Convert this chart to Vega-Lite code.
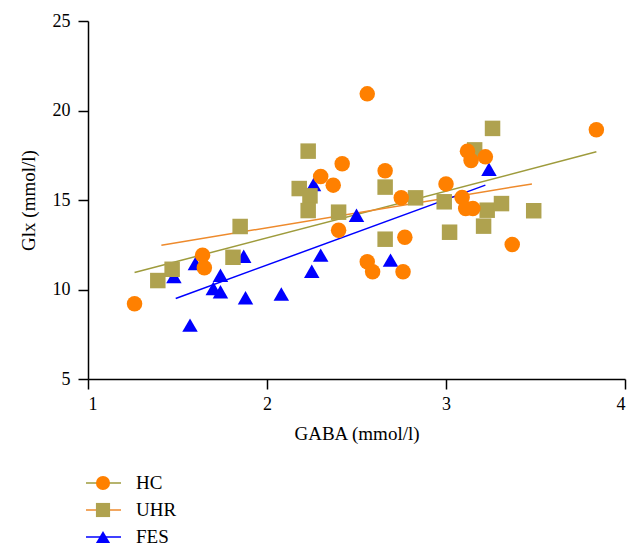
{
  "$schema": "https://vega.github.io/schema/vega-lite/v6.json",
  "background": "white",
  "padding": {"left": 19, "top": 12, "right": 5, "bottom": 5},
  "spacing": 31,
  "config": {
    "view": {"stroke": null},
    "font": "Liberation Serif",
    "axis": {
      "domainColor": "black", "domainWidth": 1.5, "tickColor": "black", "tickWidth": 1.5, "tickSize": 10,
      "labelFont": "Liberation Serif", "labelFontSize": 18, "labelColor": "black",
      "titleFont": "Liberation Serif", "titleFontSize": 19, "titleFontWeight": "normal", "titleColor": "black",
      "grid": false
    },
    "text": {"font": "Liberation Serif"}
  },
  "datasets": {
    "points": [
      {"group": "FES", "gaba": 1.87, "glx": 11.86},
      {"group": "FES", "gaba": 1.48, "glx": 10.73},
      {"group": "FES", "gaba": 1.60, "glx": 11.45},
      {"group": "FES", "gaba": 1.74, "glx": 10.80},
      {"group": "FES", "gaba": 1.70, "glx": 10.06},
      {"group": "FES", "gaba": 1.74, "glx": 9.87},
      {"group": "FES", "gaba": 1.88, "glx": 9.54},
      {"group": "FES", "gaba": 2.08, "glx": 9.75},
      {"group": "FES", "gaba": 1.57, "glx": 8.01},
      {"group": "FES", "gaba": 2.26, "glx": 15.87},
      {"group": "FES", "gaba": 2.50, "glx": 14.15},
      {"group": "FES", "gaba": 2.30, "glx": 11.92},
      {"group": "FES", "gaba": 2.25, "glx": 11.02},
      {"group": "FES", "gaba": 2.69, "glx": 11.64},
      {"group": "FES", "gaba": 3.24, "glx": 16.72},
      {"group": "UHR", "gaba": 1.85, "glx": 13.52},
      {"group": "UHR", "gaba": 1.81, "glx": 11.80},
      {"group": "UHR", "gaba": 1.47, "glx": 11.13},
      {"group": "UHR", "gaba": 1.39, "glx": 10.50},
      {"group": "UHR", "gaba": 2.23, "glx": 17.73},
      {"group": "UHR", "gaba": 2.18, "glx": 15.64},
      {"group": "UHR", "gaba": 2.24, "glx": 15.23},
      {"group": "UHR", "gaba": 2.23, "glx": 14.41},
      {"group": "UHR", "gaba": 2.66, "glx": 15.72},
      {"group": "UHR", "gaba": 2.83, "glx": 15.12},
      {"group": "UHR", "gaba": 2.99, "glx": 14.90},
      {"group": "UHR", "gaba": 2.40, "glx": 14.32},
      {"group": "UHR", "gaba": 3.02, "glx": 13.20},
      {"group": "UHR", "gaba": 2.66, "glx": 12.81},
      {"group": "UHR", "gaba": 3.26, "glx": 19.00},
      {"group": "UHR", "gaba": 3.16, "glx": 17.80},
      {"group": "UHR", "gaba": 3.23, "glx": 14.43},
      {"group": "UHR", "gaba": 3.31, "glx": 14.80},
      {"group": "UHR", "gaba": 3.49, "glx": 14.40},
      {"group": "UHR", "gaba": 3.21, "glx": 13.54},
      {"group": "HC", "gaba": 1.26, "glx": 9.20},
      {"group": "HC", "gaba": 1.64, "glx": 11.92},
      {"group": "HC", "gaba": 1.65, "glx": 11.21},
      {"group": "HC", "gaba": 2.56, "glx": 20.93},
      {"group": "HC", "gaba": 2.42, "glx": 17.02},
      {"group": "HC", "gaba": 2.30, "glx": 16.31},
      {"group": "HC", "gaba": 2.37, "glx": 15.83},
      {"group": "HC", "gaba": 2.66, "glx": 16.63},
      {"group": "HC", "gaba": 2.75, "glx": 15.12},
      {"group": "HC", "gaba": 3.00, "glx": 15.90},
      {"group": "HC", "gaba": 2.40, "glx": 13.31},
      {"group": "HC", "gaba": 2.77, "glx": 12.92},
      {"group": "HC", "gaba": 2.56, "glx": 11.55},
      {"group": "HC", "gaba": 2.59, "glx": 10.99},
      {"group": "HC", "gaba": 2.76, "glx": 10.99},
      {"group": "HC", "gaba": 3.12, "glx": 17.73},
      {"group": "HC", "gaba": 3.14, "glx": 17.21},
      {"group": "HC", "gaba": 3.22, "glx": 17.41},
      {"group": "HC", "gaba": 3.09, "glx": 15.14},
      {"group": "HC", "gaba": 3.11, "glx": 14.53},
      {"group": "HC", "gaba": 3.15, "glx": 14.53},
      {"group": "HC", "gaba": 3.84, "glx": 18.92},
      {"group": "HC", "gaba": 3.37, "glx": 12.51}
    ],
    "lines": [
      {"group": "HC", "gaba": 1.26, "glx": 10.95},
      {"group": "HC", "gaba": 3.84, "glx": 17.69},
      {"group": "UHR", "gaba": 1.41, "glx": 12.47},
      {"group": "UHR", "gaba": 3.48, "glx": 15.90},
      {"group": "FES", "gaba": 1.49, "glx": 9.50},
      {"group": "FES", "gaba": 3.22, "glx": 15.83}
    ],
    "legend": [
      {"group": "HC"},
      {"group": "UHR"},
      {"group": "FES"}
    ]
  },
  "vconcat": [
    {
      "width": 537,
      "height": 358,
      "layer": [
        {
          "data": {"name": "lines"},
          "mark": {"type": "line", "strokeWidth": 1.5},
          "encoding": {
            "x": {"field": "gaba", "type": "quantitative"},
            "y": {"field": "glx", "type": "quantitative"},
            "detail": {"field": "group"},
            "stroke": {"field": "group", "type": "nominal", "legend": null,
              "scale": {"domain": ["HC", "UHR", "FES"], "range": ["#9E9B3C", "#EE8A2C", "#0000FF"]}}
          }
        },
        {
          "data": {"name": "points"},
          "mark": {"type": "point", "filled": true, "opacity": 1, "size": 240},
          "encoding": {
            "x": {"field": "gaba", "type": "quantitative", "title": "GABA (mmol/l)",
              "scale": {"domain": [1, 4], "nice": false, "zero": false},
              "axis": {"values": [1, 2, 3, 4], "format": "d", "labelPadding": 6, "titlePadding": 11}},
            "y": {"field": "glx", "type": "quantitative", "title": "Glx (mmol/l)",
              "scale": {"domain": [5, 25], "nice": false, "zero": false},
              "axis": {"values": [5, 10, 15, 20, 25], "format": "d", "labelPadding": 8, "titlePadding": 14}},
            "shape": {"field": "group", "type": "nominal", "legend": null,
              "scale": {"domain": ["HC", "UHR", "FES"], "range": ["circle", "square", "triangle-up"]}},
            "color": {"field": "group", "type": "nominal", "legend": null,
              "scale": {"domain": ["HC", "UHR", "FES"], "range": ["#FF8000", "#AFA24F", "#0000FF"]}}
          }
        }
      ]
    },
    {
      "width": 120,
      "height": 54,
      "data": {"name": "legend"},
      "layer": [
        {
          "mark": {"type": "rule", "strokeWidth": 1.5},
          "encoding": {
            "x": {"datum": -2, "type": "quantitative", "scale": {"domain": [0, 120], "nice": false, "zero": false}, "axis": null},
            "x2": {"datum": 33},
            "y": {"field": "group", "type": "ordinal", "sort": ["HC", "UHR", "FES"], "scale": {"type": "point", "padding": 0}, "axis": null},
            "stroke": {"field": "group", "type": "nominal", "legend": null,
              "scale": {"domain": ["HC", "UHR", "FES"], "range": ["#9E9B3C", "#EE8A2C", "#0000FF"]}}
          }
        },
        {
          "mark": {"type": "point", "filled": true, "opacity": 1, "size": 200},
          "encoding": {
            "x": {"datum": 15, "type": "quantitative"},
            "y": {"field": "group", "type": "ordinal", "sort": ["HC", "UHR", "FES"]},
            "shape": {"field": "group", "type": "nominal", "legend": null,
              "scale": {"domain": ["HC", "UHR", "FES"], "range": ["circle", "square", "triangle-up"]}},
            "color": {"field": "group", "type": "nominal", "legend": null,
              "scale": {"domain": ["HC", "UHR", "FES"], "range": ["#FF8000", "#AFA24F", "#0000FF"]}}
          }
        },
        {
          "mark": {"type": "text", "align": "left", "baseline": "middle", "font": "Liberation Serif", "fontSize": 19, "color": "black"},
          "encoding": {
            "x": {"datum": 48, "type": "quantitative"},
            "y": {"field": "group", "type": "ordinal", "sort": ["HC", "UHR", "FES"]},
            "text": {"field": "group"}
          }
        }
      ]
    }
  ]
}
